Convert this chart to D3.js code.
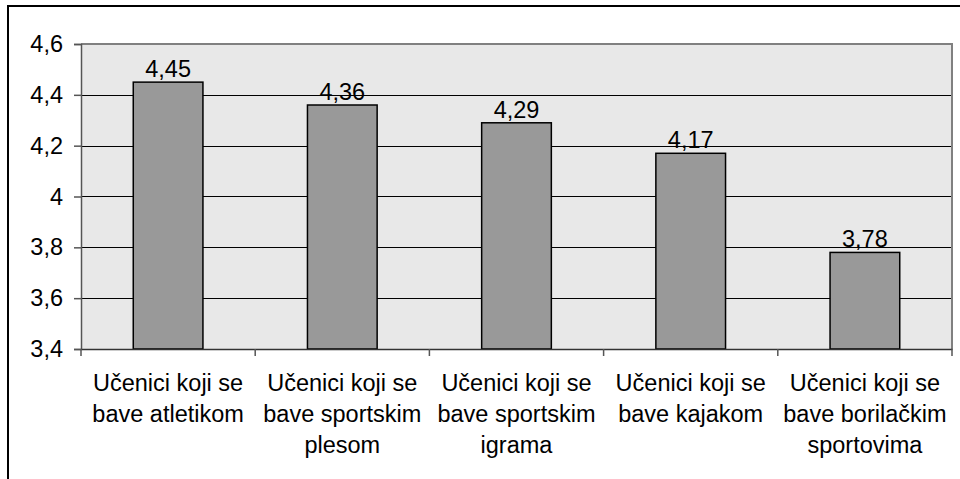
<!DOCTYPE html>
<html><head><meta charset="utf-8">
<script src="https://cdn.jsdelivr.net/npm/d3@7"></script>
<style>body{margin:0;background:#fff}svg{display:block}</style>
</head><body>
<svg id="c" width="960" height="479"></svg>
<script>
const categories = [
  ["Učenici koji se","bave atletikom"],
  ["Učenici koji se","bave sportskim","plesom"],
  ["Učenici koji se","bave sportskim","igrama"],
  ["Učenici koji se","bave kajakom"],
  ["Učenici koji se","bave borilačkim","sportovima"]
];
const values = [4.45, 4.36, 4.29, 4.17, 3.78];
const yTicks = [3.4, 3.6, 3.8, 4.0, 4.2, 4.4, 4.6];
const fmt = v => d3.format(",")(v).replace(".", ",");

const svg = d3.select("#c");
const L = 81, R = 952, T = 44, B = 349;
const font = "'Liberation Sans', Arial, sans-serif";

svg.append("rect").attr("x",8).attr("y",6).attr("width",960).attr("height",480)
  .attr("fill","#fff").attr("stroke","#000").attr("stroke-width",2);

const x = d3.scaleBand().domain(d3.range(values.length)).range([L,R]).paddingInner(0.6).paddingOuter(0.3);
const xc = d3.scaleBand().domain(d3.range(values.length)).range([L,R]);
const y = d3.scaleLinear().domain([3.4,4.6]).range([B,T]);

svg.append("rect").attr("x",L).attr("y",T).attr("width",R-L).attr("height",B-T).attr("fill","#e8e8e8");

// gridlines
svg.append("g").selectAll("line").data(yTicks.slice(1,-1)).join("line")
  .attr("x1",L).attr("x2",R).attr("y1",d=>Math.round(y(d))+0.5).attr("y2",d=>Math.round(y(d))+0.5)
  .attr("stroke","#000").attr("stroke-width",1);

// plot border top/right
svg.append("path").attr("d",`M${L},${T}H${R}V${B}`).attr("fill","none").attr("stroke","#808080").attr("stroke-width",2);

// bars
svg.append("g").selectAll("rect").data(values).join("rect")
  .attr("x",(d,i)=>x(i)).attr("width",x.bandwidth())
  .attr("y",d=>y(d)).attr("height",d=>B-y(d))
  .attr("fill","#999999").attr("stroke","#000").attr("stroke-width",1.5);

// value labels
svg.append("g").selectAll("text").data(values).join("text")
  .attr("x",(d,i)=>x(i)+x.bandwidth()/2).attr("y",d=>y(d)-5)
  .attr("text-anchor","middle").attr("font-family",font).attr("font-size",23.5).attr("fill","#000")
  .text(d=>fmt(d));

// y axis
const yAxis = d3.axisLeft(y).tickValues(yTicks).tickSize(7).tickPadding(11).tickFormat(fmt);
const gy = svg.append("g").attr("transform",`translate(${L},0)`).call(yAxis);
gy.select(".domain").attr("stroke","#555").attr("stroke-width",1.5);
gy.selectAll(".tick line").attr("stroke","#555").attr("stroke-width",1.5);
gy.selectAll("text").attr("font-family",font).attr("font-size",23.5).attr("fill","#000");

// x axis
const xAxis = d3.axisBottom(xc).tickSize(0).tickFormat("");
const gx = svg.append("g").attr("transform",`translate(0,${B})`).call(xAxis);
gx.select(".domain").attr("stroke","#333").attr("stroke-width",1.5);
gx.append("g").selectAll("line").data(d3.range(values.length+1)).join("line")
  .attr("x1",i=>L+i*xc.step()).attr("x2",i=>L+i*xc.step()).attr("y1",0).attr("y2",7)
  .attr("stroke","#555").attr("stroke-width",1.5);

const labels = svg.append("g").selectAll("text").data(categories).join("text")
  .attr("text-anchor","middle").attr("font-family",font).attr("font-size",23.5).attr("fill","#000");
labels.each(function(lines,i){
  const t = d3.select(this);
  lines.forEach((ln,j)=>{
    t.append("tspan").attr("x",xc(i)+xc.bandwidth()/2).attr("y",391+j*31).text(ln);
  });
});
</script>
</body></html>
